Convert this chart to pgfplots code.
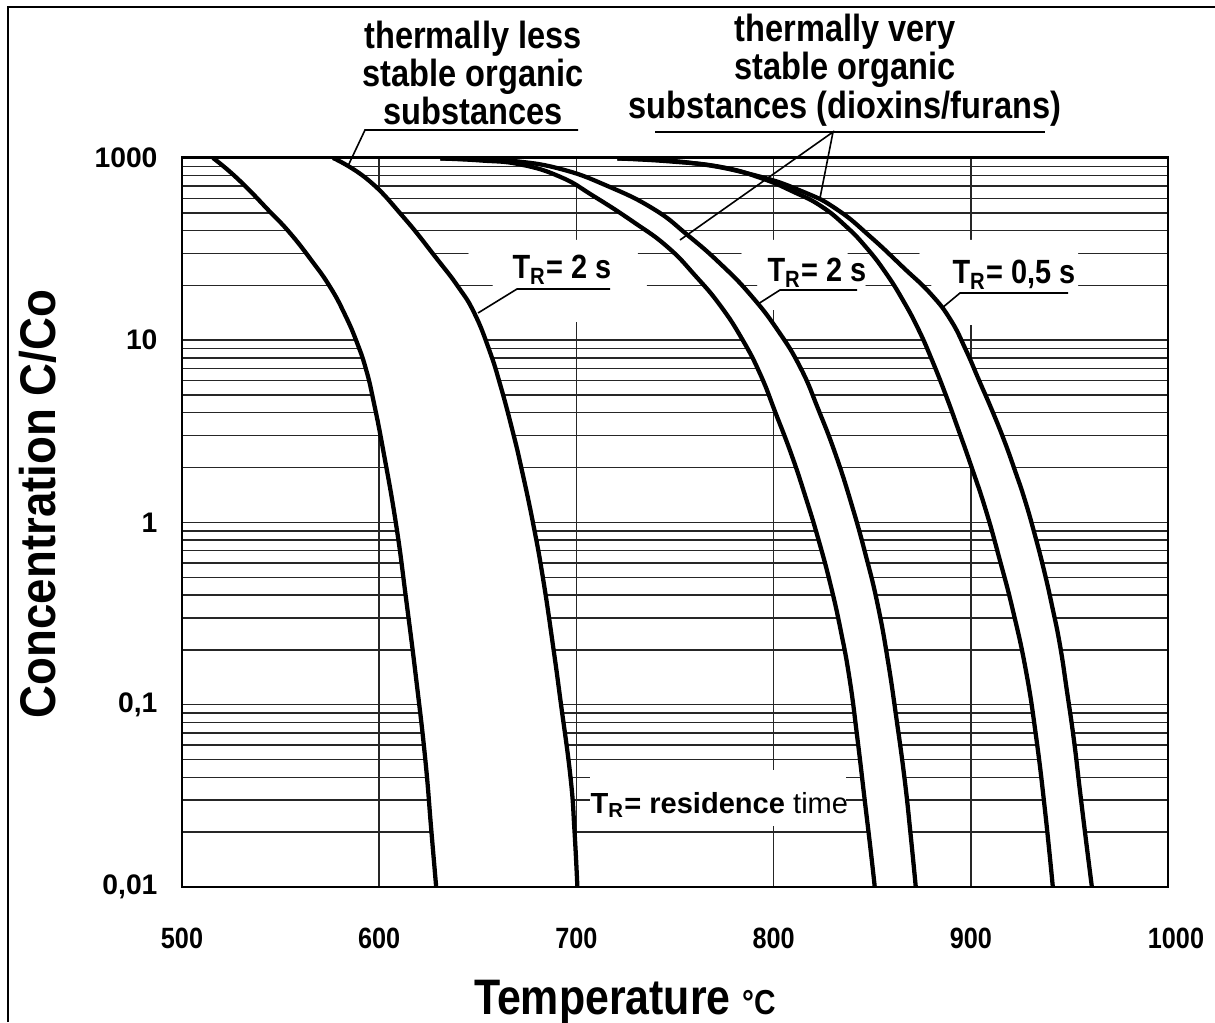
\documentclass[border=0pt]{standalone}
\usepackage{fontspec}
\setmainfont{Liberation Sans}
\newfontfamily\narrow{Liberation Sans}[FakeStretch=0.86]
\newfontfamily\semi{Liberation Sans}[FakeStretch=0.91]
\usepackage{pgfplots}
\pgfplotsset{compat=1.18}
\usepgfplotslibrary{fillbetween}

\begin{document}
\begin{tikzpicture}
\begin{axis}[
    name=ax, at={(0,0)}, anchor=south west,
    scale only axis, width=369.75pt, height=273.4pt,
    set layers,
    ymode=log,
    xmin=500, xmax=1000, ymin=0.01, ymax=100,
    xtick={500,600,700,800,900,1000},
    xticklabels={500,600,700,800,900,\hspace*{6pt}\raisebox{3.5pt}{1000}},
    ytick={0.01,0.1,1,10,100},
    yticklabels={{0,01},{0,1},{1},{10},{1000}},
    minor ytick={0.02,0.03,0.04,0.05,0.06,0.07,0.08,0.09,
                 0.2,0.3,0.4,0.5,0.6,0.7,0.8,0.9,
                 2,3,4,5,6,7,8,9,
                 20,30,40,50,60,70,80,90},
    xmajorgrids=true, ymajorgrids=true, yminorgrids=true,
    major tick length=0pt, minor tick length=0pt,
    grid style={black!85, line width=0.55pt},
    minor grid style={black!85, line width=0.55pt},
    axis line style={line width=1.1pt},
    /pgf/number format/assume math mode=true,
    yticklabel style={font=\bfseries\fontsize{10.6}{12}\selectfont, inner sep=0pt, xshift=-9pt},
    xticklabel style={font=\narrow\bfseries\fontsize{11}{12}\selectfont, inner sep=0pt, yshift=-15pt},
]

% thermally less stable organic substances
\addplot[name path=c1, black, line width=1.6pt, smooth, tension=0.8, line join=round] coordinates {
    (515.7,100) (524.4,83.80) (534.0,66.74) (543.7,51.84) (554.3,39.26)
    (565.5,27.56) (575.1,19.60) (582.7,13.76) (588.8,9.66) (593.4,6.87)
    (597.0,4.70) (602.0,2.50) (608.6,0.969) (613.7,0.376) (618.8,0.137)
    (623.4,0.0498) (626.4,0.0206) (628.9,0.01)
};
\addplot[name path=c2, black, line width=1.6pt, smooth, tension=0.8, line join=round] coordinates {
    (576.6,100) (594.4,75.73) (612.2,47.47) (628.9,28.27) (640.1,19.60)
    (648.2,14.11) (655.8,8.84) (661.4,5.68) (667.5,3.22) (672.1,1.99)
    (678.2,0.969) (683.2,0.484) (688.3,0.205) (691.9,0.106) (697.0,0.0401)
    (699.0,0.0206) (700.5,0.01)
};

% thermally very stable organic substances, T_R = 2 s
\addplot[name path=c3, black, line width=1.6pt, smooth, tension=0.8, line join=round] coordinates {
    (631.0,99.37) (651.3,96.89) (671.6,92.11) (691.9,78.67) (708.6,61.87)
    (728.9,44.56) (746.2,32.48) (760.4,22.52) (773.1,15.42) (784.3,10.03)
    (793.4,6.45) (801.0,3.99) (809.1,2.35) (816.2,1.38) (822.8,0.802)
    (828.9,0.454) (834.0,0.257) (838.6,0.137) (842.6,0.0640) (846.2,0.0300)
    (849.2,0.0160) (851.3,0.01)
};
\addplot[name path=c4, black, line width=1.6pt, smooth, tension=0.8, line join=round] coordinates {
    (631.0,99.37) (651.3,98.12) (668.0,96.28) (691.9,87.04) (715.7,70.21)
    (739.1,52.50) (756.3,37.80) (773.1,26.21) (788.3,17.72) (802.0,11.38)
    (813.7,7.04) (822.8,4.14) (831.5,2.35) (839.6,1.25) (846.7,0.663)
    (852.8,0.353) (857.9,0.176) (862.4,0.0825) (866.5,0.0386) (869.5,0.0193)
    (872.1,0.01)
};

% thermally very stable organic substances, T_R = 0,5 s
\addplot[name path=c5, black, line width=1.6pt, smooth, tension=0.8, line join=round] coordinates {
    (720.8,99.37) (747.7,95.68) (773.1,89.27) (793.4,77.68) (810.2,65.08)
    (823.9,54.53) (836.5,42.36) (847.2,32.07) (856.9,23.39) (865.5,16.63)
    (873.6,11.38) (880.7,7.60) (887.3,5.01) (893.4,3.30) (900.0,2.07)
    (907.6,1.17) (914.7,0.623) (921.3,0.331) (927.9,0.155) (933.0,0.0682)
    (937.6,0.0265) (941.6,0.01)
};
\addplot[name path=c6, black, line width=1.6pt, smooth, tension=0.8, line join=round] coordinates {
    (720.8,99.37) (756.3,94.47) (789.8,80.68) (815.2,65.08) (832.5,51.84)
    (849.2,36.86) (866.0,24.92) (879.7,17.94) (889.8,12.91) (897.5,8.84)
    (904.1,6.05) (910.7,4.14) (916.8,2.84) (922.3,1.94) (927.4,1.33)
    (932.5,0.854) (937.1,0.548) (941.1,0.353) (945.2,0.213) (948.7,0.120)
    (952.3,0.0640) (955.3,0.0341) (958.4,0.0181) (961.4,0.01)
};

\addplot[white] fill between[of=c1 and c2];
\addplot[white] fill between[of=c3 and c4];
\addplot[white] fill between[of=c5 and c6];
\end{axis}

\draw[line width=1.1pt] (0,0) rectangle (369.75pt,273.4pt);

% annotations, in pixel units of the original picture
\begin{scope}[x=0.375pt, y=-0.375pt, shift={(-68.25pt,332.625pt)}]
  \fill[white] (464,240) -- (634,240) -- (648,290) -- (648,322) -- (494,322) -- (494,287) -- (470,258) -- cycle;
  \fill[white] (735,240) -- (840,240) -- (850,258) -- (868,290) -- (870,310) -- (770,310) -- (758,287) -- cycle;
  \fill[white] (918,240) -- (1078,240) -- (1078,325) -- (962,325) -- (950,300) -- (932,287) -- (920,258) -- cycle;
  \fill[white] (590,770) rectangle (846,826);

  \begin{scope}[font=\narrow\bfseries\fontsize{12.6}{14}\selectfont]
    \node[anchor=base west, inner sep=0pt] at (512,279) {T\textsubscript{R}= 2 s};
    \node[anchor=base west, inner sep=0pt] at (767,282) {T\textsubscript{R}= 2 s};
    \node[anchor=base west, inner sep=0pt] at (952,284) {T\textsubscript{R}= 0,5 s};
  \end{scope}
  \draw[line width=0.6pt] (610,289) -- (517,289) -- (478,313);
  \draw[line width=0.6pt] (857,290) -- (780,290) -- (758,304);
  \draw[line width=0.6pt] (1068,293) -- (960,293) -- (942,308);

  \node[anchor=base west, inner sep=0pt, font=\bfseries\fontsize{10.9}{12}\selectfont]
    at (590,813) {T\textsubscript{R}= residence {\mdseries time}};

  \begin{scope}[font=\narrow\bfseries\fontsize{14.2}{14.4}\selectfont]
    \node[align=center] at (473,73) {thermally less\\stable organic\\substances};
    \node[align=center] at (845,70) {thermally very\\stable organic\\substances (dioxins/furans)};
  \end{scope}
  \draw[line width=0.6pt] (578,130) -- (365,130) -- (348,166);
  \draw[line width=0.6pt] (655,132) -- (1045,132);
  \draw[line width=0.6pt] (680,240) -- (833,132) -- (820,198);

  \node[rotate=90, font=\semi\bfseries\fontsize{18.8}{20}\selectfont] at (38,504) {Concentration C/Co};
  \node[anchor=base, font=\narrow\bfseries\fontsize{18.7}{20}\selectfont] at (625,1014)
    {Temperature {\fontsize{13}{14}\selectfont °C}};

  \draw[line width=0.8pt] (8,1022) -- (8,7) -- (1215,7);

  \pgfresetboundingbox
  \path[use as bounding box] (0,0) rectangle (1215,1022);
\end{scope}
\end{tikzpicture}
\end{document}
